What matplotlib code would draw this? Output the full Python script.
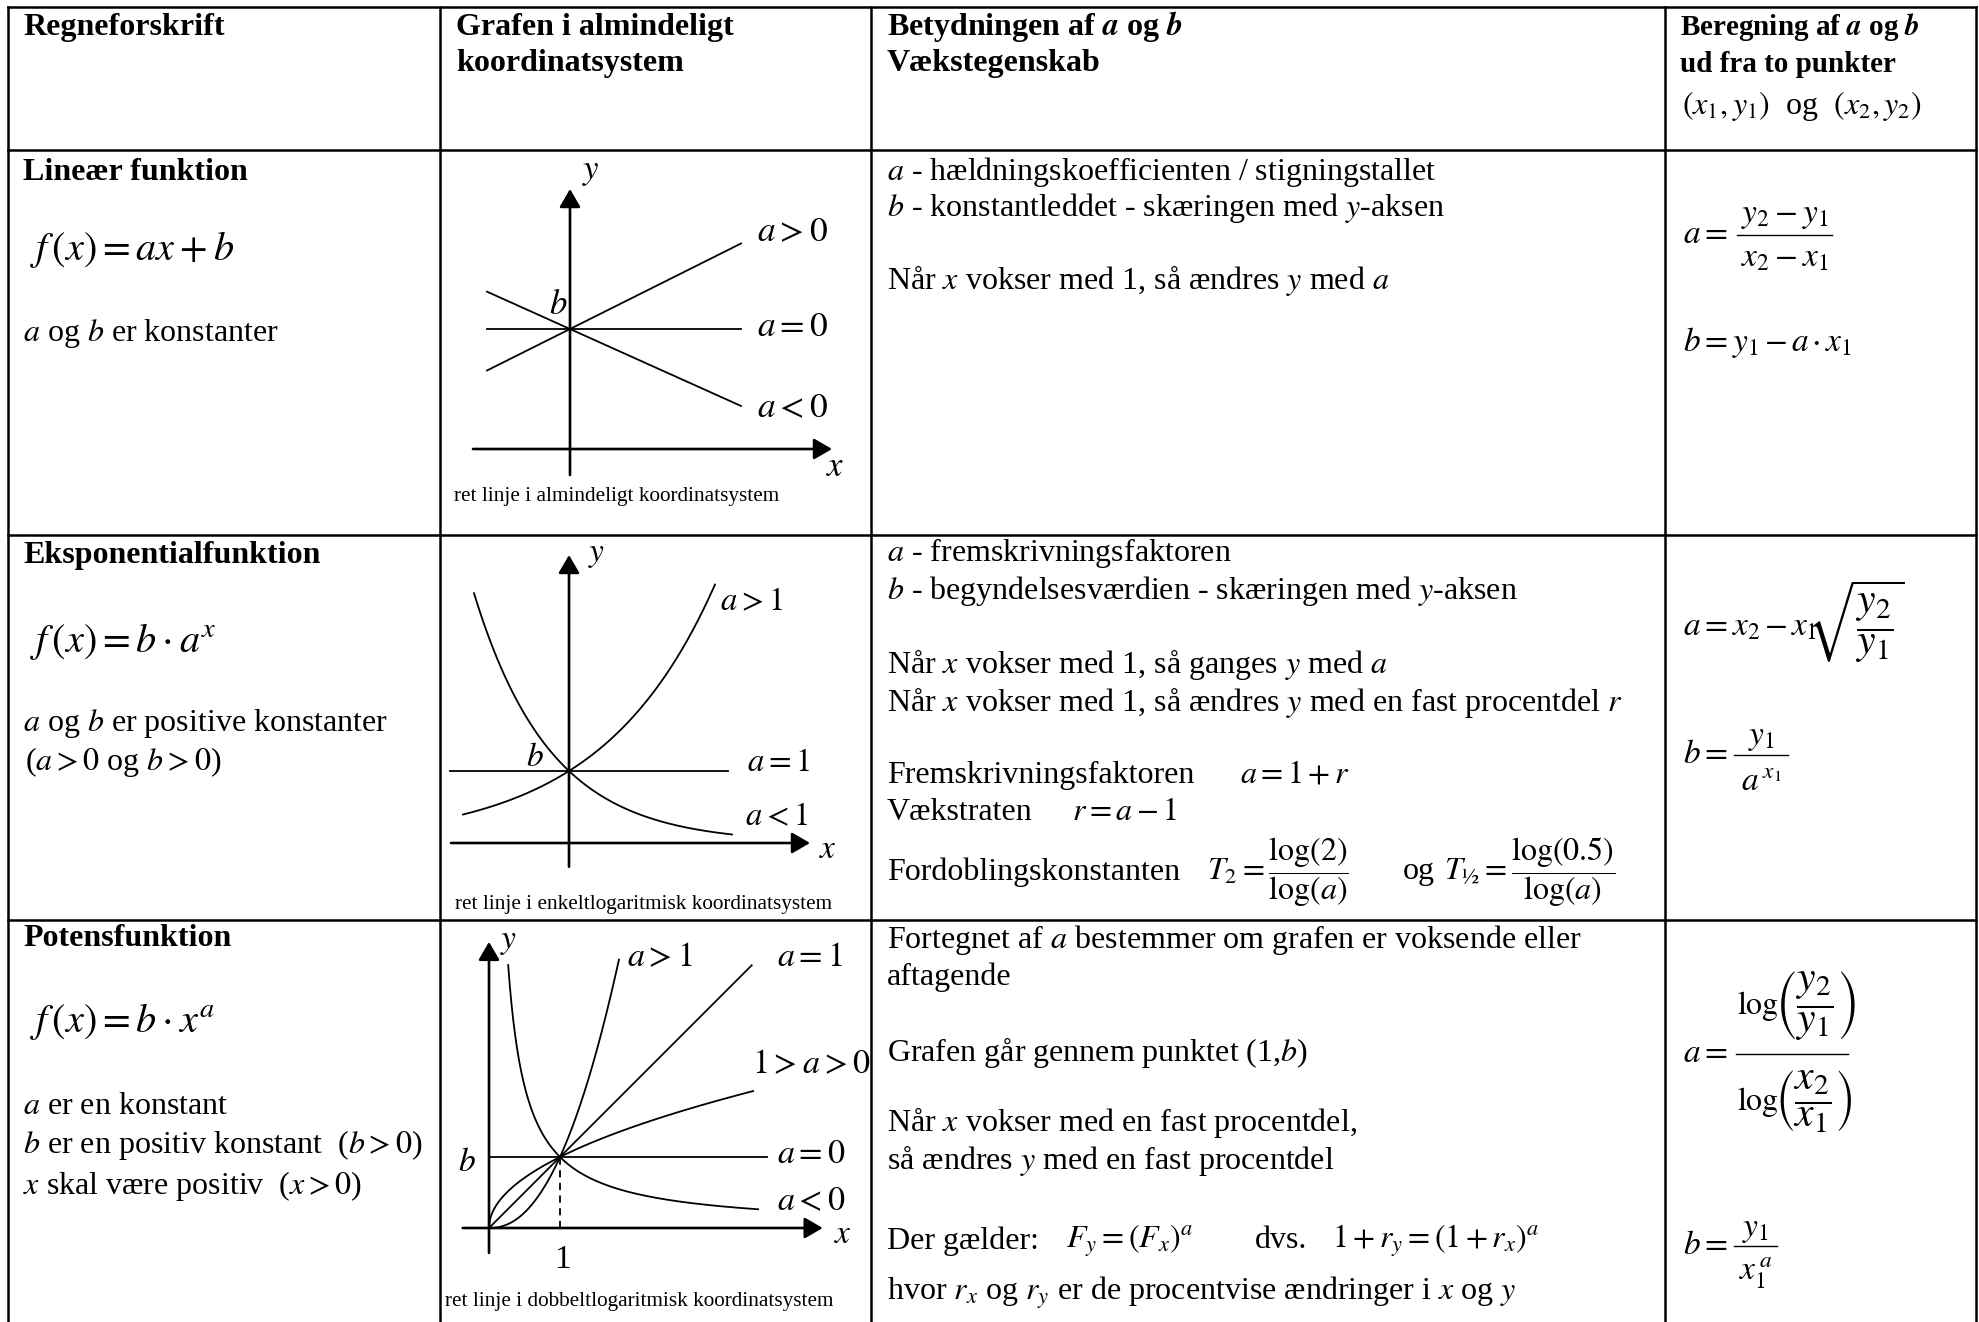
import numpy as np
import matplotlib.pyplot as plt

plt.rcParams['font.family'] = 'Liberation Serif'
plt.rcParams['mathtext.fontset'] = 'stix'

W, H = 1979, 1322

# tabel-gitter (pixels)
col_edges = [8, 440, 871, 1665, 1976]
row_edges = [7, 150, 535, 920]

# lineær: f(x) = a*x + b
lin_b = 1.2
lin_slopes = [0.5, 0.0, -0.45]
lin_labels = ['$a > 0$', '$a = 0$', '$a < 0$']
lin_xrange = (-0.83, 1.71)

# eksponentiel: f(x) = b*a^x
exp_b = 1.0
exp_bases = [2.4, 1.0, 0.27]
exp_xranges = [(-1.06, 1.46), (-1.19, 1.59), (-0.95, 1.63)]
exp_labels = ['$a > 1$', '$a = 1$', '$a < 1$']

# potens: f(x) = b*x^a
pow_b = 1.0
pow_exps = [2.2, 1.0, 0.5, 0.0, -1.0]
pow_xranges = [(0, 1.83), (0, 3.70), (0, 3.72), (0, 3.92), (0.27, 3.79)]
pow_labels = ['$a > 1$', '$a = 1$', '$1 > a > 0$', '$a = 0$', '$a < 0$']

fig = plt.figure(figsize=(W / 100, H / 100), dpi=100)
ax = fig.add_axes([0, 0, 1, 1])
ax.set_xlim(0, W)
ax.set_ylim(H, 0)
ax.axis('off')

for x in col_edges:
    ax.plot([x, x], [row_edges[0], H], color='k', lw=1.8)
for y in row_edges:
    ax.plot([col_edges[0], col_edges[-1]], [y, y], color='k', lw=1.8)

FS = 23


def put(x, y, s, size=FS, **kw):
    ax.text(x, y, s, fontsize=size, va='center', ha='left', **kw)


def frac(x0, x1, y, num, den, dn, dd, size=24):
    # brøk sat sammen af tæller, brøkstreg og nævner
    xc = (x0 + x1) / 2
    ax.text(xc, y - dn, num, fontsize=size, ha='center', va='center')
    ax.plot([x0, x1], [y, y], color='k', lw=1.0)
    ax.text(xc, y + dd, den, fontsize=size, ha='center', va='center')


# overskrifter
put(23, 27, 'Regneforskrift', weight='bold')
put(456, 27, 'Grafen i almindeligt', weight='bold')
put(456, 64, 'koordinatsystem', weight='bold')
put(887, 27, r'Betydningen af $\mathbfit{a}$ og $\mathbfit{b}$', weight='bold')
put(887, 64, 'Vækstegenskab', weight='bold')
put(1680, 27, r'Beregning af $\mathbfit{a}$ og $\mathbfit{b}$', size=21, weight='bold')
put(1680, 64, 'ud fra to punkter', size=21, weight='bold')
put(1682, 106, r'$(x_1, y_1)$  og  $(x_2, y_2)$', size=23)

# kolonne 1
put(23, 172, 'Lineær funktion', weight='bold')
put(30, 249, r'$f\,(x) = ax + b$', size=29)
put(23, 333, '$a$ og $b$ er konstanter')

put(23, 555, 'Eksponentialfunktion', weight='bold')
put(30, 641, r'$f\,(x) = b \cdot a^x$', size=29)
put(23, 723, '$a$ og $b$ er positive konstanter')
put(25, 762, '($a > 0$ og $b > 0$)')

put(23, 938, 'Potensfunktion', weight='bold')
put(30, 1022, r'$f\,(x) = b \cdot x^a$', size=29)
put(23, 1106, '$a$ er en konstant')
put(23, 1145, '$b$ er en positiv konstant  ($b > 0$)')
put(23, 1186, '$x$ skal være positiv  ($x > 0$)')

# kolonne 3
put(887, 172, '$a$ - hældningskoefficienten / stigningstallet')
put(887, 208, '$b$ - konstantleddet - skæringen med $y$-aksen')
put(887, 281, 'Når $x$ vokser med 1, så ændres $y$ med $a$')

put(887, 553, '$a$ - fremskrivningsfaktoren')
put(887, 591, '$b$ - begyndelsesværdien - skæringen med $y$-aksen')
put(887, 665, 'Når $x$ vokser med 1, så ganges $y$ med $a$')
put(887, 702, 'Når $x$ vokser med 1, så ændres $y$ med en fast procentdel $r$')
put(887, 775, 'Fremskrivningsfaktoren')
put(1240, 775, '$a = 1 + r$')
put(887, 812, 'Vækstraten')
put(1072, 812, '$r = a - 1$')
put(887, 872, 'Fordoblingskonstanten')
put(1207, 872, r'$T_2 = \dfrac{\log(2)}{\log(a)}$')
put(1403, 872, 'og')
put(1444, 872, r'$T_{½} = \dfrac{\log(0.5)}{\log(a)}$')

put(887, 940, 'Fortegnet af $a$ bestemmer om grafen er voksende eller')
put(887, 977, 'aftagende')
put(887, 1052, 'Grafen går gennem punktet (1,$b$)')
put(887, 1122, 'Når $x$ vokser med en fast procentdel,')
put(887, 1160, 'så ændres $y$ med en fast procentdel')
put(887, 1241, 'Der gælder:')
put(1066, 1241, '$F_y = (F_x)^a$')
put(1255, 1241, 'dvs.')
put(1332, 1241, '$1 + r_y = (1 + r_x)^a$')
put(887, 1293, 'hvor $r_x$ og $r_y$ er de procentvise ændringer i $x$ og $y$')

# kolonne 4
put(1683, 235, '$a =$', size=24)
frac(1737, 1832, 235, '$y_2 - y_1$', '$x_2 - x_1$', 19, 23)
put(1683, 343, r'$b = y_1\,{-}\,a\,{\cdot}\,x_1$', size=24)

put(1683, 627, r'$a = x_2\,{-}\,x_1$', size=24)
put(1806, 622, r'$\sqrt{\dfrac{y_2}{y_1}}$', size=30)
put(1683, 755, '$b =$', size=24)
frac(1734, 1788, 755, '$y_1$', r'$a^{\,x_1}$', 17, 28)

put(1683, 1054, '$a =$', size=24)
ax.plot([1736, 1848], [1054, 1054], color='k', lw=1.0)
for yc, part in [(1006, r'$\left(\dfrac{y_2}{y_1}\right)$'),
                 (1102, r'$\left(\dfrac{x_2}{x_1}\right)$')]:
    put(1737, yc, r'$\log$', size=23)
    put(1775, yc, part, size=30)
put(1683, 1246, '$b =$', size=24)
frac(1734, 1777, 1246, '$y_1$', '$x_1^{\\,a}$', 16, 27)


def panel(box, origin, ux, uy):
    l, t, r, b = box
    p = fig.add_axes([l / W, 1 - b / H, (r - l) / W, (b - t) / H])
    p.set_xlim((l - origin[0]) / ux, (r - origin[0]) / ux)
    p.set_ylim((origin[1] - b) / uy, (origin[1] - t) / uy)
    p.axis('off')
    p.patch.set_visible(False)
    return p


def arrow(p, x0, y0, x1, y1):
    p.annotate('', xy=(x1, y1), xytext=(x0, y0), annotation_clip=False,
               arrowprops=dict(arrowstyle='-|>,head_length=0.55,head_width=0.32',
                               lw=1.9, color='k', shrinkA=0, shrinkB=0,
                               mutation_scale=20))


CAP = 15.3

# graf 1 - lineær
g1 = panel((442, 152, 869, 533), (570, 449), 100, 100)
arrow(g1, 0, -0.26, 0, 2.60)
arrow(g1, -0.97, 0, 2.62, 0)
xs = np.linspace(*lin_xrange, 50)
for k in lin_slopes:
    g1.plot(xs, k * xs + lin_b, color='k', lw=1.3, clip_on=False)
for lab, ly in zip(lin_labels, [2.16, 1.21, 0.40]):
    g1.text(1.87, ly, lab, fontsize=25.5, va='center')
g1.text(-0.12, 1.43, '$b$', fontsize=25, ha='center', va='center')
g1.text(0.21, 2.77, '$y$', fontsize=25, ha='center', va='center')
g1.text(2.65, -0.19, '$x$', fontsize=25, ha='center', va='center')
g1.text(-1.16, -0.48, 'ret linje i almindeligt koordinatsystem', fontsize=CAP, va='center')

# graf 2 - eksponentiel
g2 = panel((442, 537, 869, 918), (569, 843), 100, 72)
arrow(g2, 0, -0.33, 0, 4.0)
arrow(g2, -1.18, 0, 2.41, 0)
for a, (x0, x1) in zip(exp_bases, exp_xranges):
    xs = np.linspace(x0, x1, 200)
    g2.plot(xs, exp_b * a ** xs, color='k', lw=1.3, clip_on=False)
for lab, (lx, ly) in zip(exp_labels, [(1.51, 3.35), (1.78, 1.12), (1.76, 0.36)]):
    g2.text(lx, ly, lab, fontsize=23.5, va='center')
g2.text(-0.34, 1.18, '$b$', fontsize=24, ha='center', va='center')
g2.text(0.28, 4.0, '$y$', fontsize=24, ha='center', va='center')
g2.text(2.59, -0.1, '$x$', fontsize=24, ha='center', va='center')
g2.text(-1.14, -0.86, 'ret linje i enkeltlogaritmisk koordinatsystem', fontsize=CAP, va='center')

# graf 3 - potens
g3 = panel((442, 922, 869, 1322), (489, 1228), 71, 71)
arrow(g3, 0, -0.35, 0, 4.03)
arrow(g3, -0.37, 0, 4.70, 0)
for a, (x0, x1) in zip(pow_exps, pow_xranges):
    xs = np.linspace(x0, x1, 300)
    g3.plot(xs, pow_b * xs ** a, color='k', lw=1.3, clip_on=False)
g3.plot([1, 1], [0, pow_b], color='k', lw=1.3, ls=(0, (4, 3)))
pow_label_pos = [(1.94, 3.80), (4.06, 3.80), (3.70, 2.30), (4.06, 1.03), (4.06, 0.37)]
for lab, (lx, ly) in zip(pow_labels, pow_label_pos):
    g3.text(lx, ly, lab, fontsize=24.5, va='center')
g3.text(-0.31, 0.92, '$b$', fontsize=24, ha='center', va='center')
g3.text(0.27, 4.03, '$y$', fontsize=24, ha='center', va='center')
g3.text(4.99, -0.1, '$x$', fontsize=24, ha='center', va='center')
g3.text(1.04, -0.45, '1', fontsize=24, ha='center', va='center')
g3.text(-0.62, -1.04, 'ret linje i dobbeltlogaritmisk koordinatsystem', fontsize=CAP, va='center')

fig.savefig('out.png', dpi=100)
